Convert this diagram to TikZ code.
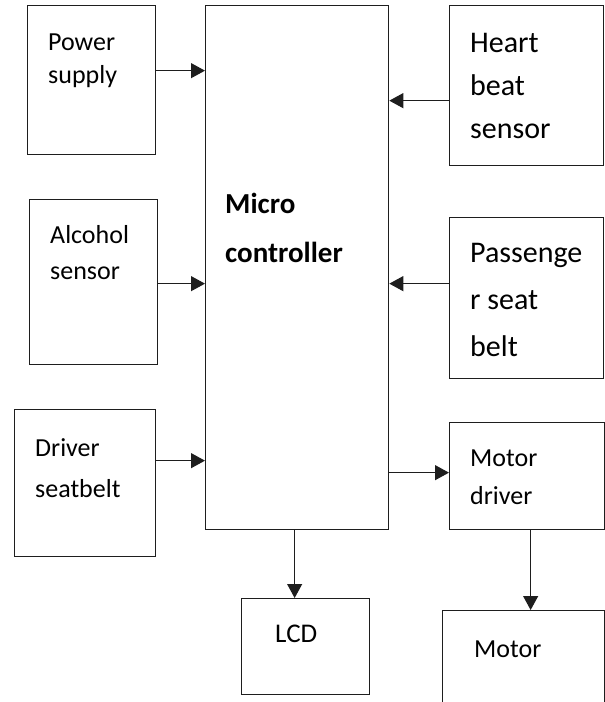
\documentclass[tikz,border=0pt]{standalone}
\usepackage{fontspec}
\setmainfont{Carlito}
\usetikzlibrary{arrows.meta}
\definecolor{cline}{RGB}{30,30,30}
\tikzset{blockdiag/.style={x=1pt,y=-1pt},
  box/.style={draw=cline,line width=1.3pt,anchor=north west,inner sep=0pt},
  arr/.style={draw=cline,line width=1.1pt,-{Triangle[length=14pt,width=15pt]}},
  lbl/.style={anchor=base west,align=left,inner sep=0pt,font=\fontsize{26}{#1}\selectfont},
  lblbig/.style={anchor=base west,align=left,inner sep=0pt,font=\fontsize{30}{#1}\selectfont}}

\begin{document}
\begin{tikzpicture}[blockdiag]
    \useasboundingbox (0,0) rectangle (605,702);
    \clip (0,0) rectangle (605,702);
    % blocks
    \node[box,minimum width=128,minimum height=149] (power)    at (27,5)    {};
    \node[box,minimum width=183,minimum height=524] (micro)    at (205,5)   {};
    \node[box,minimum width=154,minimum height=160] (heart)    at (449,5)   {};
    \node[box,minimum width=128,minimum height=165] (alcohol)  at (29,199)  {};
    \node[box,minimum width=154,minimum height=161] (passbelt) at (449,217) {};
    \node[box,minimum width=141,minimum height=147] (drvbelt)  at (14,409)  {};
    \node[box,minimum width=155,minimum height=107] (motordrv) at (449,422) {};
    \node[box,minimum width=128,minimum height=96]  (lcd)      at (241,598) {};
    \node[box,minimum width=162,minimum height=130] (motor)    at (442,610) {}; % runs off the page
    % labels (placed at the baseline of their last line)
    \node[lbl=33]    (powertxt) at (48,83)   {Power\\supply};
    \node[lblbig=43] (hearttxt) at (470,138) {Heart\\beat\\sensor};
    \node[lbl=36]    (alctxt)   at (50,279)  {Alcohol\\sensor};
    \node[anchor=base west,align=left,inner sep=0pt,font=\fontsize{29}{49}\selectfont\bfseries]
                     (microtxt) at (225,262) {Micro\\controller};
    \node[lblbig=47] (passtxt)  at (470,356) {Passenge\\r seat\\belt};
    \node[lbl=41]    (drvtxt)   at (35,497)  {Driver\\seatbelt};
    \node[lbl=38]    (mdtxt)    at (470,504) {Motor\\driver};
    \node[lbl=33,font=\fontsize{27}{33}\selectfont] (lcdtxt) at (275,642) {LCD};
    \node[lbl=33]    (motortxt) at (474,657) {Motor};
    % connectors
    \coordinate (pw) at ([yshift=9.5pt]power.east);
    \coordinate (hb) at ([yshift=-15pt]heart.west);
    \coordinate (al) at ([yshift=-1.5pt]alcohol.east);
    \coordinate (ps) at ([yshift=14.5pt]passbelt.west);
    \coordinate (dr) at ([yshift=22.5pt]drvbelt.east);
    \coordinate (md) at ([yshift=3.5pt]motordrv.west);
    \coordinate (mc) at ([xshift=-2.5pt]micro.south);
    \coordinate (mo) at ([xshift=3.5pt]motordrv.south);
    \draw[arr] (pw) -- (pw -| micro.west);
    \draw[arr] (hb) -- (hb -| micro.east);
    \draw[arr] (al) -- (al -| micro.west);
    \draw[arr] (ps) -- (ps -| micro.east);
    \draw[arr] (dr) -- (dr -| micro.west);
    \draw[arr] (md -| micro.east) -- (md);
    \draw[arr] (mc) -- (mc |- lcd.north);
    \draw[arr] (mo) -- (mo |- motor.north);
\end{tikzpicture}
\end{document}
